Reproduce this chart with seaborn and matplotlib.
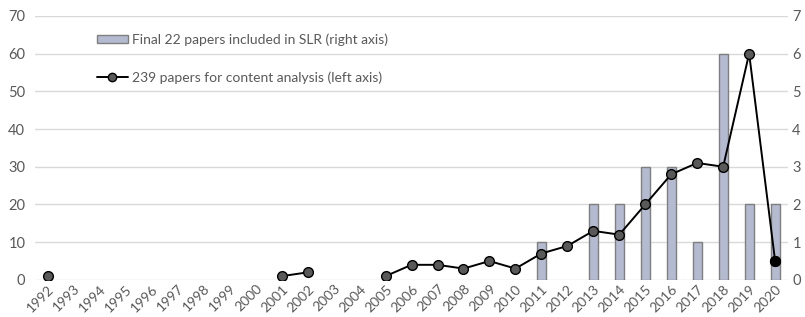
import numpy as np
import pandas as pd
import matplotlib.pyplot as plt
import seaborn as sns
from matplotlib.lines import Line2D
from matplotlib.patches import Patch

years = list(range(1992, 2021))
# papers for content analysis (left axis); NaN = no point
content_papers = [1, np.nan, np.nan, np.nan, np.nan, np.nan, np.nan, np.nan, np.nan, 1, 2,
                  np.nan, np.nan, 1, 4, 4, 3, 5, 3, 7, 9, 13, 12, 20, 28, 31, 30, 60, 5]
# papers included in SLR (right axis)
slr_papers = [0, 0, 0, 0, 0, 0, 0, 0, 0, 0, 0, 0, 0, 0, 0, 0, 0, 0, 0,
              1, 0, 2, 2, 3, 3, 1, 6, 2, 2]

bar_label = "Final 22 papers included in SLR (right axis)"
line_label = "239 papers for content analysis (left axis)"

text_color = "#595959"
grid_color = "#D9D9D9"
bar_color = "#B4BBD0"

sns.set_theme(style="white")
plt.rcParams['font.family'] = ['Lato', 'DejaVu Sans']

df = pd.DataFrame({"year": [str(y) for y in years], "pos": range(len(years)),
                   "content": content_papers, "slr": slr_papers})
# split the line into connected runs so gaps stay open
df["segment"] = df["content"].isna().cumsum()

fig = plt.figure(figsize=(8.05, 3.17), dpi=100)
ax = fig.add_axes([0.0435, 0.117, 0.9355, 0.833])
ax2 = ax.twinx()

bar_df = df[df["slr"] > 0]
sns.barplot(x="pos", y="slr", data=bar_df, ax=ax2, color=bar_color, width=0.35,
            edgecolor="#7F7F7F", linewidth=1, saturation=1, native_scale=True)

ax.set_zorder(ax2.get_zorder() + 1)
ax.patch.set_visible(False)

line_df = df.dropna(subset=["content"])
sns.lineplot(x="pos", y="content", data=line_df, units="segment", estimator=None,
             ax=ax, color="black", linewidth=1.4, marker="o", markersize=7,
             markerfacecolor="#595959", markeredgecolor="black", markeredgewidth=1)
last = line_df.iloc[[-1]]
ax.scatter(last["pos"], last["content"], s=50, color="black", zorder=5)

ax.set_xlim(-0.5, len(years) - 0.5)
ax2.set_xlim(-0.5, len(years) - 0.5)
ax.set_ylim(0, 70)
ax2.set_ylim(0, 7)
ax.set_yticks(range(0, 71, 10))
ax2.set_yticks(range(0, 8))
ax2.yaxis.grid(True, color=grid_color, linewidth=1)
ax.yaxis.grid(False)
ax.set_xticks(range(len(years)))
ax.set_xticklabels(years, rotation=45, ha="right", rotation_mode="anchor")

for a in (ax, ax2):
    for s in a.spines.values():
        s.set_visible(False)
    a.set_xlabel("")
    a.set_ylabel("")
    a.tick_params(length=0, labelsize=10.5, colors=text_color)
ax.tick_params(axis="x", labelsize=10, pad=2)
ax.tick_params(axis="y", pad=7)
ax2.tick_params(axis="y", pad=3)

handles = [Patch(facecolor=bar_color, edgecolor="#7F7F7F"),
           Line2D([0], [0], color="black", linewidth=1.4, marker="o", markersize=6,
                  markerfacecolor="#595959", markeredgecolor="black")]
fig.legend(handles, [bar_label, line_label], loc="upper left", bbox_to_anchor=(0.105, 0.935),
           frameon=False, labelspacing=1.85, handlelength=2.2, handleheight=0.5,
           handletextpad=0.3, fontsize=10, labelcolor=text_color)

fig.savefig("out.png", dpi=100)
plt.close()
